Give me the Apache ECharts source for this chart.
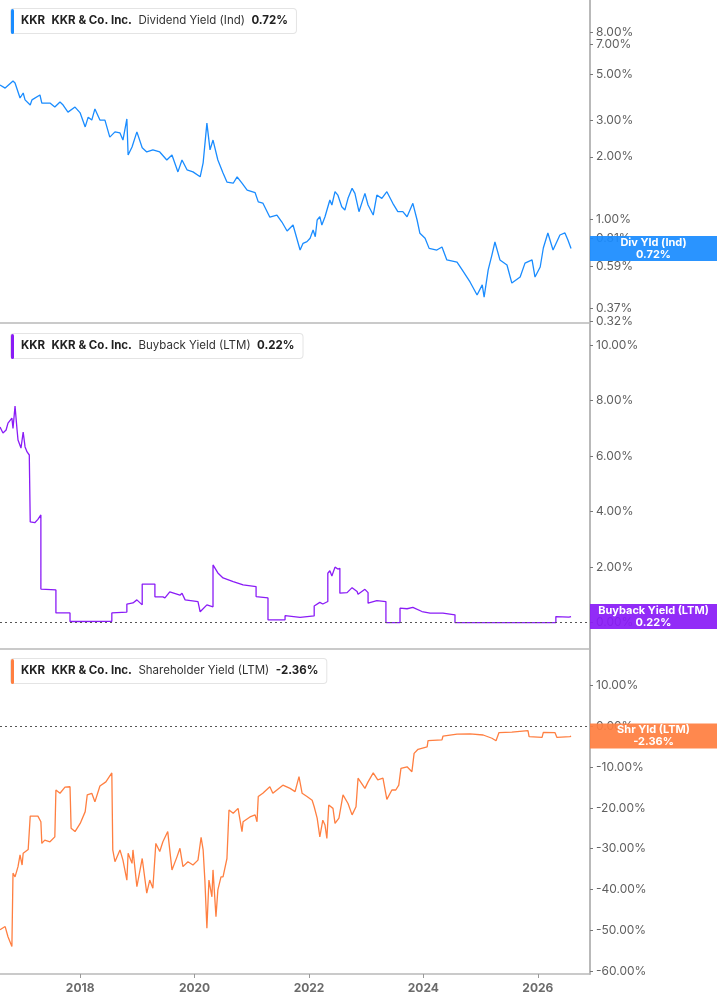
<!DOCTYPE html>
<html>
<head>
<meta charset="utf-8">
<title>KKR yields</title>
<script src="https://cdn.jsdelivr.net/npm/echarts@6/dist/echarts.min.js"></script>
<style>
  html, body { margin: 0; padding: 0; background: #fff; }
  #chart { width: 717px; height: 1005px; }
</style>
</head>
<body>
<div id="chart"></div>
<script>
// values, [date, percent]
const divYield = [
  ['2016-08-07',4.45],['2016-09-09',4.30],['2016-10-29',4.65],['2016-11-11',4.55],['2016-12-13',3.85],
  ['2017-01-02',4.07],['2017-01-14',3.77],['2017-02-16',3.56],['2017-02-27',3.77],['2017-04-19',3.98],
  ['2017-05-01',3.64],['2017-06-22',3.64],['2017-07-23',3.48],['2017-08-25',3.68],['2017-09-14',3.56],
  ['2017-10-15',3.29],['2017-11-29',3.48],['2018-01-01',3.26],['2018-02-02',2.79],['2018-02-21',3.11],
  ['2018-03-16',3.01],['2018-04-05',3.41],['2018-05-07',3.01],['2018-06-08',3.01],['2018-07-09',2.49],
  ['2018-08-11',2.64],['2018-09-12',2.61],['2018-10-01',2.41],['2018-10-26',3.05],['2018-11-03',2.04],
  ['2018-11-28',2.23],['2018-12-29',2.64],['2019-02-01',2.21],['2019-03-02',2.11],['2019-04-10',2.16],
  ['2019-05-24',2.11],['2019-07-08',1.93],['2019-08-10',2.04],['2019-09-17',1.69],['2019-10-13',1.93],
  ['2019-11-14',1.73],['2019-12-22',1.69],['2020-02-06',1.60],['2020-02-25',1.87],['2020-03-20',2.91],
  ['2020-04-09',2.16],['2020-04-28',2.41],['2020-05-29',1.93],['2020-07-01',1.67],['2020-07-26',1.51],
  ['2020-09-04',1.49],['2020-09-29',1.60],['2020-10-30',1.49],['2020-12-02',1.38],['2021-01-22',1.34],
  ['2021-02-11',1.21],['2021-03-12',1.195],['2021-04-26',1.02],['2021-06-10',1.045],['2021-07-12',0.967],
  ['2021-08-14',0.875],['2021-09-21',0.935],['2021-11-05',0.708],['2021-11-24',0.763],['2021-12-19',0.777],
  ['2022-01-08',0.807],['2022-01-27',0.885],['2022-02-10',0.821],['2022-02-22',0.989],['2022-03-11',1.026],
  ['2022-03-24',0.935],['2022-04-13',1.026],['2022-05-14',1.236],['2022-05-27',1.169],['2022-06-16',1.356],
  ['2022-07-04',1.306],['2022-07-29',1.147],['2022-08-18',1.105],['2022-09-07',1.259],['2022-10-03',1.407],
  ['2022-10-21',1.331],['2022-11-16',1.085],['2022-12-24',1.331],['2023-01-13',1.169],['2023-02-15',1.045],
  ['2023-03-10',1.306],['2023-04-11',1.259],['2023-05-13',1.356],['2023-06-20',1.191],['2023-07-22',1.085],
  ['2023-08-23',1.085],['2023-09-19',1.026],['2023-10-26',1.191],['2023-11-22',0.989],['2023-12-10',0.853],
  ['2024-01-12',0.807],['2024-02-07',0.721],['2024-03-27',0.708],['2024-04-29',0.732],
  ['2024-05-30',0.634],['2024-08-03',0.619],['2024-09-05',0.567],['2024-10-25',0.496],['2024-12-09',0.429],
  ['2025-01-11',0.480],['2025-01-23',0.419],['2025-02-18',0.567],['2025-03-14',0.670],['2025-04-02',0.774],
  ['2025-05-04',0.634],['2025-06-18',0.599],['2025-07-19',0.490],['2025-09-10',0.524],['2025-10-11',0.612],
  ['2025-11-25',0.634],['2025-12-14',0.524],['2026-01-16',0.586],['2026-02-05',0.724],['2026-03-06',0.856],
  ['2026-04-08',0.708],['2026-05-22',0.837],['2026-06-23',0.856],['2026-07-12',0.791],['2026-08-01',0.72]
];

const buybackYield = [
  ['2016-08-07',7.05],['2016-08-26',6.83],['2016-09-15',6.94],['2016-09-27',7.19],['2016-10-22',7.37],
  ['2016-10-29',7.00],['2016-11-11',7.80],['2016-11-24',6.94],['2016-11-30',6.58],['2016-12-19',6.29],
  ['2017-01-02',6.87],['2017-01-14',6.33],['2017-01-27',6.15],['2017-02-10',6.04],['2017-02-16',6.00],
  ['2017-02-16',3.63],['2017-03-17',3.60],['2017-04-06',3.72],['2017-04-25',3.88],['2017-04-25',1.21],
  ['2017-07-30',1.18],['2017-07-30',0.35],['2017-10-28',0.35],['2017-10-28',0.04],['2018-07-22',0.05],
  ['2018-07-22',0.35],['2018-10-26',0.38],['2018-10-26',0.67],['2018-12-04',0.71],['2018-12-29',0.82],
  ['2019-02-01',0.64],['2019-02-01',1.39],['2019-04-23',1.39],['2019-04-23',0.93],['2019-06-13',0.93],
  ['2019-06-26',0.89],['2019-07-27',1.11],['2019-09-30',0.99],['2019-10-13',1.06],['2019-11-02',0.82],
  ['2020-01-23',0.76],['2020-02-06',0.39],['2020-03-20',0.64],['2020-04-28',0.57],['2020-04-28',2.08],
  ['2020-05-29',1.79],['2020-07-01',1.61],['2020-09-04',1.48],['2020-11-06',1.36],['2021-01-28',1.30],
  ['2021-01-28',0.94],['2021-04-14',0.89],['2021-04-14',0.10],['2021-08-01',0.10],['2021-08-01',0.25],
  ['2021-11-05',0.19],['2022-02-03',0.24],['2022-02-03',0.60],['2022-03-11',0.73],['2022-03-30',0.67],
  ['2022-05-01',0.76],['2022-05-01',1.78],['2022-05-14',1.87],['2022-05-27',1.68],['2022-06-16',2.00],
  ['2022-07-04',1.93],['2022-07-17',1.96],['2022-07-17',1.06],['2022-09-01',1.08],['2022-10-03',1.26],
  ['2022-11-04',1.12],['2022-11-10',1.02],['2022-12-24',1.20],['2023-01-13',1.08],['2023-01-13',0.70],
  ['2023-03-10',0.79],['2023-05-07',0.76],['2023-05-07',0.00],['2023-08-05',0.00],['2023-08-05',0.52],
  ['2023-09-19',0.50],['2023-10-26',0.55],['2023-12-23',0.40],['2024-02-13',0.34],['2024-05-05',0.34],
  ['2024-07-21',0.28],['2024-07-21',0.00],['2026-04-26',0.00],['2026-04-26',0.22],['2026-07-18',0.20],
  ['2026-08-01',0.22]
];

const shareholderYield = [
  ['2016-08-07',-49.9],['2016-09-09',-49.1],['2016-09-27',-51.6],['2016-10-22',-54.0],['2016-10-29',-36.0],
  ['2016-11-11',-36.9],['2016-11-24',-35.2],['2016-11-30',-34.4],['2016-12-13',-31.5],['2016-12-26',-34.0],
  ['2017-01-02',-31.1],['2017-02-03',-30.2],['2017-02-16',-22.0],['2017-04-06',-22.0],['2017-04-25',-23.4],
  ['2017-05-01',-28.7],['2017-05-20',-27.9],['2017-06-22',-28.3],['2017-07-23',-27.1],['2017-07-30',-15.6],
  ['2017-08-25',-16.4],['2017-09-26',-14.9],['2017-10-28',-14.8],['2017-11-04',-25.0],['2017-11-29',-25.8],
  ['2018-01-01',-23.8],['2018-02-02',-20.9],['2018-02-15',-16.8],['2018-03-16',-16.4],['2018-04-05',-18.5],
  ['2018-05-07',-14.6],['2018-06-14',-13.6],['2018-07-22',-11.4],['2018-07-28',-30.3],['2018-08-11',-33.2],
  ['2018-09-12',-30.3],['2018-10-01',-32.8],['2018-10-26',-37.7],['2018-11-03',-31.1],['2018-11-28',-33.6],
  ['2018-12-04',-30.3],['2018-12-29',-39.3],['2019-02-01',-32.4],['2019-03-02',-40.9],['2019-03-21',-37.7],
  ['2019-04-10',-39.7],['2019-04-29',-28.7],['2019-05-24',-30.7],['2019-06-13',-28.3],['2019-07-14',-25.8],
  ['2019-08-10',-35.2],['2019-09-11',-32.0],['2019-09-30',-29.9],['2019-10-19',-34.4],['2019-11-20',-33.2],
  ['2019-12-22',-34.0],['2020-01-23',-32.8],['2020-02-12',-27.2],['2020-02-25',-30.3],['2020-03-07',-37.7],
  ['2020-03-20',-49.5],['2020-04-02',-37.7],['2020-04-21',-41.8],['2020-04-28',-35.2],['2020-05-17',-46.7],
  ['2020-05-29',-40.1],['2020-06-18',-36.9],['2020-07-01',-36.9],['2020-07-26',-32.4],['2020-08-08',-20.5],
  ['2020-09-04',-21.3],['2020-10-05',-20.1],['2020-10-30',-25.8],['2020-11-06',-23.4],['2020-12-20',-22.2],
  ['2021-01-22',-21.7],['2021-02-03',-23.4],['2021-02-11',-17.2],['2021-03-12',-16.4],['2021-04-26',-14.8],
  ['2021-05-15',-16.4],['2021-07-18',-14.4],['2021-09-02',-15.2],['2021-10-04',-16.0],['2021-10-29',-12.3],
  ['2021-11-18',-16.4],['2021-12-19',-17.2],['2022-01-21',-18.1],['2022-02-03',-19.7],['2022-02-22',-22.5],
  ['2022-03-11',-27.1],['2022-03-30',-23.0],['2022-04-13',-24.2],['2022-04-25',-27.5],['2022-05-07',-19.3],
  ['2022-06-03',-20.1],['2022-06-16',-23.8],['2022-07-11',-22.5],['2022-08-06',-16.8],['2022-09-07',-18.9],
  ['2022-10-03',-21.7],['2022-10-28',-19.7],['2022-11-10',-12.7],['2022-12-24',-15.2],['2023-01-13',-13.6],
  ['2023-02-15',-11.4],['2023-03-16',-13.1],['2023-04-18',-12.7],['2023-05-13',-17.9],['2023-06-14',-15.6],
  ['2023-07-09',-15.6],['2023-07-28',-14.4],['2023-08-11',-10.3],['2023-09-19',-9.9],['2023-10-20',-11.1],
  ['2023-11-03',-6.6],['2023-11-28',-5.6],['2024-01-25',-5.0],['2024-01-31',-3.5],['2024-04-29',-3.3],
  ['2024-05-05',-2.4],['2024-08-03',-1.9],['2024-10-25',-1.8],['2025-01-17',-2.1],['2025-03-14',-2.9],
  ['2025-04-09',-3.5],['2025-04-28',-1.5],['2025-07-19',-1.4],['2025-07-26',-1.05],['2025-10-30',-1.05],
  ['2025-11-06',-2.5],['2026-01-28',-2.7],['2026-02-05',-1.45],['2026-04-20',-1.5],['2026-05-03',-2.7],
  ['2026-07-25',-2.5],['2026-08-01',-2.36]
];

const divTicks = [8, 7, 5, 3, 2, 1, 0.81, 0.59, 0.37, 0.32];
const buybackTicks = [0, 2, 4, 6, 8, 10];
const shareholderTicks = [10, 0, -10, -20, -30, -40, -50, -60];
const yearTicks = ['2018-01-01', '2020-01-01', '2022-01-01', '2024-01-01', '2026-01-01'];

const panels = [
  { name: 'Dividend Yield (Ind)', short: 'Div Yld (Ind)', color: '#1a8cff', last: 0.72 },
  { name: 'Buyback Yield (LTM)', short: 'Buyback Yield (LTM)', color: '#8a1cf6', last: 0.22 },
  { name: 'Shareholder Yield (LTM)', short: 'Shr Yld (LTM)', color: '#ff7f41', last: -2.36 }
];

const FONT = 'Inter, "Noto Sans", sans-serif';
const AXIS_GRAY = '#b9b9b9';
const pct = v => v.toFixed(2) + '%';
// dates become epoch ms for a plain value x axis
const toMs = rows => rows.map(r => [Date.parse(r[0]), r[1]]);
const X_MIN = Date.parse('2016-08-07');
const X_MAX = Date.parse('2026-11-30');
const yearMs = yearTicks.map(d => Date.parse(d));

const chart = echarts.init(document.getElementById('chart'));

function xAxisFor(i) {
  const isBottom = i === 2;
  return {
    type: 'value',
    gridIndex: i,
    min: X_MIN,
    max: X_MAX,
    axisLine: { show: true, onZero: false, lineStyle: { color: AXIS_GRAY, width: 1.5 } },
    axisTick: {
      show: isBottom, customValues: yearMs, length: 4,
      lineStyle: { color: '#999' }
    },
    axisLabel: {
      show: isBottom, customValues: yearMs,
      formatter: v => String(new Date(v).getUTCFullYear()),
      color: '#6b6b6b', fontWeight: 'bold', fontSize: 12, fontFamily: FONT, margin: 8
    },
    splitLine: { show: false }
  };
}

function yAxisFor(i, extra, ticks) {
  return Object.assign({
    gridIndex: i,
    position: 'right',
    axisLine: { show: true, lineStyle: { color: AXIS_GRAY, width: 2 } },
    axisTick: { show: true, customValues: ticks, length: 3, lineStyle: { color: '#777' } },
    axisLabel: {
      customValues: ticks, formatter: v => pct(v),
      color: '#5f5f5f', fontSize: 12, fontFamily: FONT, margin: 6
    },
    splitLine: { show: false }
  }, extra);
}

const zeroLine = {
  silent: true,
  symbol: 'none',
  label: { show: false },
  lineStyle: { type: [2, 3], color: '#555', width: 1 },
  data: [{ yAxis: 0 }]
};

function lineSeries(i, data, withZero) {
  const s = {
    type: 'line',
    xAxisIndex: i,
    yAxisIndex: i,
    data: toMs(data),
    showSymbol: false,
    lineStyle: { color: panels[i].color, width: 1.3 },
    itemStyle: { color: panels[i].color },
    animation: false
  };
  if (withZero) s.markLine = zeroLine;
  return s;
}

chart.setOption({
  animation: false,
  textStyle: { fontFamily: FONT },
  grid: [
    { left: 0, right: 127, top: 0, height: 323 },
    { left: 0, right: 127, top: 324, height: 325 },
    { left: 0, right: 127, top: 649, height: 325 }
  ],
  xAxis: [xAxisFor(0), xAxisFor(1), xAxisFor(2)],
  yAxis: [
    yAxisFor(0, { type: 'log', logBase: 10, min: 0.314, max: 11.47 }, divTicks),
    yAxisFor(1, { type: 'value', min: -0.95, max: 10.76 }, buybackTicks),
    yAxisFor(2, { type: 'value', min: -60.74, max: 19.0 }, shareholderTicks)
  ],
  series: [
    lineSeries(0, divYield, false),
    lineSeries(1, buybackYield, true),
    lineSeries(2, shareholderYield, true)
  ]
});

// legend tags (top left) and last-value tags (on the axis)
const legendTops = [8, 333, 658];
const graphics = [];
panels.forEach((p, i) => {
  graphics.push({
    type: 'group', left: 10, top: legendTops[i], z: 100,
    children: [
      {
        type: 'text', x: 0, y: 0,
        style: {
          text: '{b|KKR}  {b|KKR & Co. Inc.}  {n|' + p.name + '}  {b|' + pct(p.last) + '}',
          rich: {
            b: { fontFamily: FONT, fontSize: 11.5, fontWeight: 'bold', fill: '#222' },
            n: { fontFamily: FONT, fontSize: 11.5, fill: '#333' }
          },
          font: '11.5px ' + FONT,
          backgroundColor: '#fff',
          borderColor: '#e4e4e4', borderWidth: 1, borderRadius: 3,
          padding: [6, 8, 6, 10]
        }
      },
      { type: 'rect', shape: { x: 0, y: 0, width: 3, height: 25, r: 1.5 }, style: { fill: p.color } }
    ]
  });

  const yPix = chart.convertToPixel({ yAxisIndex: i }, p.last);
  graphics.push({
    type: 'rect', z: 100,
    shape: { x: 590, y: yPix - 12.5, width: 127, height: 25 },
    style: { fill: p.color, opacity: 0.93 }
  });
  graphics.push({
    type: 'text', z: 101, x: 653.5, y: yPix,
    style: {
      text: p.short + '\n' + pct(p.last),
      fill: '#fff', font: 'bold 11px ' + FONT, lineHeight: 12,
      align: 'center', verticalAlign: 'middle'
    }
  });
});

chart.setOption({ graphic: graphics });

window.addEventListener('resize', () => chart.resize());
</script>
</body>
</html>
